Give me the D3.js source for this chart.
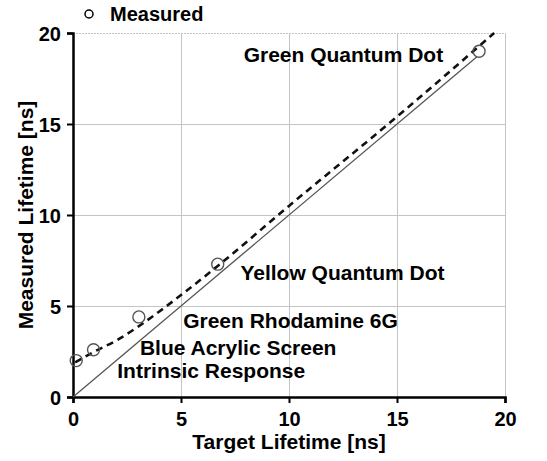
<!DOCTYPE html>
<html>
<head>
<meta charset="utf-8">
<script src="https://cdn.jsdelivr.net/npm/d3@7"></script>
<style>
  body { margin: 0; background: #fff; }
  text { font-family: "Liberation Sans", Arial, sans-serif; font-weight: bold; fill: #000; }
</style>
</head>
<body>
<svg id="chart" width="547" height="461"></svg>
<script>
// measured points (target, measured)
const measured = [
  [0.15, 2.0], [0.95, 2.6], [3.05, 4.4], [6.7, 7.3], [18.8, 19.0]
];
// dashed fit curve through the measurements
const fitCurve = [
  [0.1, 1.9], [1, 2.5], [2, 3.1], [3, 3.85], [4, 4.7], [5, 5.6],
  [6.7, 7.2], [10, 10.5], [15, 15.4], [19.5, 20]
];
// ideal 1:1 line
const ideal = [[0, 0], [18.7, 18.7]];
const ticks = [0, 5, 10, 15, 20];
const labels = [
  { text: 'Green Quantum Dot', x: 7.9, y: 18.4 },
  { text: 'Yellow Quantum Dot', x: 7.75, y: 6.45 },
  { text: 'Green Rhodamine 6G', x: 5.1, y: 3.8 },
  { text: 'Blue Acrylic Screen', x: 3.1, y: 2.3 },
  { text: 'Intrinsic Response', x: 2.05, y: 1.05 }
];

const svg = d3.select('#chart');
const margin = { left: 73, right: 42, top: 33, bottom: 64 };
const width = 547 - margin.left - margin.right;
const height = 461 - margin.top - margin.bottom;

const x = d3.scaleLinear().domain([0, 20]).range([margin.left, margin.left + width]);
const y = d3.scaleLinear().domain([0, 20]).range([margin.top + height, margin.top]);

// gridlines
const grid = svg.append('g').attr('stroke', '#c4c4c4').attr('stroke-width', 1);
grid.selectAll('.gx')
  .data(ticks.slice(1))
  .join('line')
  .attr('x1', (d) => x(d) + 0.5).attr('x2', (d) => x(d) + 0.5)
  .attr('y1', y(0)).attr('y2', y(20));
grid.selectAll('.gy')
  .data(ticks.slice(1))
  .join('line')
  .attr('y1', (d) => y(d) + 0.5).attr('y2', (d) => y(d) + 0.5)
  .attr('x1', x(0)).attr('x2', x(20))
  .attr('stroke-dasharray', (d) => (d === 20 ? '2,1' : null));

// axes
const xAxis = svg.append('g')
  .attr('transform', `translate(0,${y(0)})`)
  .call(d3.axisBottom(x).tickValues(ticks).tickSize(6).tickPadding(9));
const yAxis = svg.append('g')
  .attr('transform', `translate(${x(0)},0)`)
  .call(d3.axisLeft(y).tickValues(ticks).tickSize(6).tickPadding(6));

[xAxis, yAxis].forEach((ax) => {
  ax.select('.domain').attr('stroke', '#000').attr('stroke-width', 2.5);
  ax.selectAll('.tick line').attr('stroke', '#000').attr('stroke-width', 2);
  ax.selectAll('.tick text').style('font-size', '20px').attr('fill', '#000');
});
yAxis.selectAll('.tick text').attr('dy', '0.36em');

// ideal line
const line = d3.line().x((d) => x(d[0])).y((d) => y(d[1]));
svg.append('path')
  .datum(ideal)
  .attr('d', line)
  .attr('fill', 'none')
  .attr('stroke', '#555')
  .attr('stroke-width', 1.3);

// dashed fit
svg.append('path')
  .datum(fitCurve)
  .attr('d', line.curve(d3.curveMonotoneX))
  .attr('fill', 'none')
  .attr('stroke', '#111')
  .attr('stroke-width', 2.6)
  .attr('stroke-dasharray', '7,5');

// measured circles
svg.selectAll('.pt')
  .data(measured)
  .join('circle')
  .attr('cx', (d) => x(d[0]))
  .attr('cy', (d) => y(d[1]))
  .attr('r', 6)
  .attr('fill', 'none')
  .attr('stroke', '#555')
  .attr('stroke-width', 1.4);

// annotations
svg.selectAll('.lbl')
  .data(labels)
  .join('text')
  .attr('x', (d) => x(d.x))
  .attr('y', (d) => y(d.y))
  .style('font-size', '21px')
  .text((d) => d.text);

// legend
svg.append('circle')
  .attr('cx', 89).attr('cy', 14).attr('r', 4)
  .attr('fill', 'none').attr('stroke', '#000').attr('stroke-width', 1.5);
svg.append('text')
  .attr('x', 110).attr('y', 21)
  .style('font-size', '20px')
  .text('Measured');

// axis titles
svg.append('text')
  .attr('x', x(10))
  .attr('y', 449)
  .attr('text-anchor', 'middle')
  .style('font-size', '21px')
  .text('Target Lifetime [ns]');
svg.append('text')
  .attr('transform', `translate(33,${y(10)}) rotate(-90)`)
  .attr('text-anchor', 'middle')
  .style('font-size', '21px')
  .text('Measured Lifetime [ns]');
</script>
</body>
</html>
